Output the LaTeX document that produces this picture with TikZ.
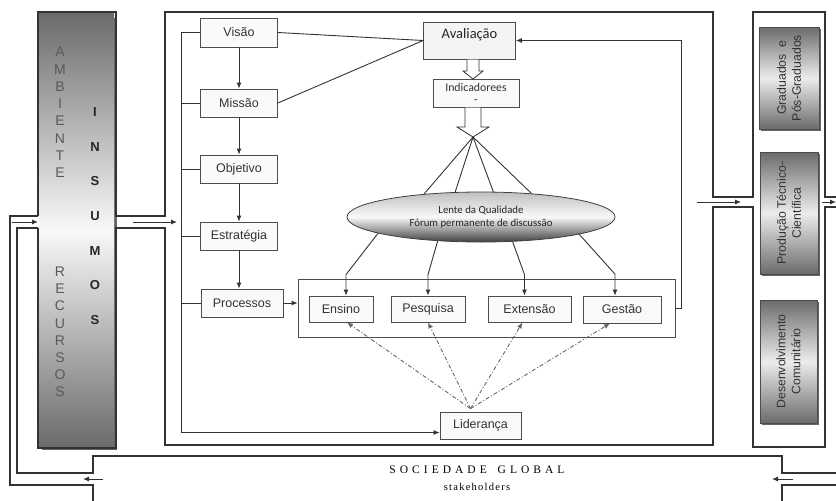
\documentclass[tikz,border=0pt]{standalone}
\usepackage{fontspec}
\setmainfont{Liberation Sans}
\newfontfamily\calfont{Carlito}
\newfontfamily\serfont[LetterSpace=35]{Liberation Serif}
\newfontfamily\serstk[LetterSpace=12]{Liberation Serif}
\usetikzlibrary{arrows.meta,shapes.geometric,calc}
\begin{document}
\begin{tikzpicture}[x=1pt,y=-1pt,
  pipe/.style={draw=black!80, line width=1.4pt, line join=miter},
  box/.style={draw=black!70, fill=gray!4, line width=0.8pt, minimum height=28pt, inner sep=0pt,
    font=\fontsize{12.5}{14}\selectfont, text=black!80},
  conn/.style={draw=black!80, line width=0.9pt},
  arr/.style={conn, -{Latex[length=6pt,width=5pt]}},
  dasharr/.style={draw=black!60, line width=0.9pt, dash pattern=on 4pt off 2pt on 1pt off 2pt,
    -{Latex[length=6pt,width=5pt]}},
  hollow/.style={draw=black!80, fill=white, line width=0.8pt, line join=miter},
  rbox/.style={draw=black!70, line width=0.6pt, top color=black!58, bottom color=black!58,
    middle color=gray!15, inner sep=0pt},
  rtext/.style={rotate=90, align=center, font=\fontsize{12.3}{15}\selectfont, text=black!80},
  stack/.style={align=center, inner sep=0pt, text=black!65},
]
\useasboundingbox (0,0) rectangle (836,501);

% ---- left column (Ambiente / Insumos / Recursos)
\fill[black!60] (42,18) rectangle (117,450);
\shade[top color=black!58, bottom color=black!58, middle color=gray!5] (39,13) rectangle (114,447);
\node[stack, font=\fontsize{14}{17.3}\selectfont] (amb) at (60,112.5) {A\\M\\B\\I\\E\\N\\T\\E};
\node[stack, font=\fontsize{14}{17.2}\selectfont] (rec) at (60,332) {R\\E\\C\\U\\R\\S\\O\\S};
\node[stack, font=\bfseries\fontsize{13}{34.7}\selectfont, text=black!85] (ins) at (95,216) {I\\N\\S\\U\\M\\O\\S};

% ---- right column boxes
\fill[black!60] (761,29) rectangle (821,131);
\node[rbox, minimum width=60pt, minimum height=102pt] (grad) at (789,78) {};
\node[rtext] (gradt) at (grad.center) {Graduados\enspace e\\Pós-Graduados};
\fill[black!60] (762,154) rectangle (820,276);
\node[rbox, minimum width=58pt, minimum height=122pt] (prod) at (789,213) {};
\node[rtext] (prodt) at (prod.center) {Produção Técnico-\\Científica};
\fill[black!60] (762,302) rectangle (819,425);
\node[rbox, minimum width=57pt, minimum height=123pt] (desen) at (788.5,361.5) {};
\node[rtext] (desent) at (desen.center) {Desenvolvimento\\Comunitário};

% ---- pipe outlines
\draw[pipe] (38,216) -- (38,12) -- (116,12) -- (116,216) -- (165,216) -- (165,12) -- (713,12)
  -- (713,197) -- (753,197) -- (753,12) -- (825,12) -- (825,197) -- (840,197);
\draw[pipe] (38,228) -- (38,448) -- (116,448) -- (116,228) -- (165,228) -- (165,445) -- (713,445)
  -- (713,207) -- (753,207) -- (753,447) -- (825,447) -- (825,207) -- (840,207);
\draw[pipe] (38,216) -- (10,216) -- (10,485) -- (93,485) -- (93,505);
\draw[pipe] (38,228) -- (17,228) -- (17,473) -- (93,473) -- (93,456) -- (782,456) -- (782,473) -- (840,473);
\draw[pipe] (840,485) -- (782,485) -- (782,505);

% channel arrows
\coordinate (c1a) at (12,222);  \coordinate (c1b) at (38,222);
\coordinate (c2a) at (133,222); \coordinate (c2b) at (177,222);
\coordinate (c3a) at (697,202); \coordinate (c3b) at (741,202);
\coordinate (c4a) at (822,202); \coordinate (c4b) at (836,202);
\coordinate (c5a) at (103,479); \coordinate (c5b) at (83,479);
\coordinate (c6a) at (793,479); \coordinate (c6b) at (772,479);
\foreach \i in {1,...,6} \draw[arr] (c\i a) -- (c\i b);

% bar text
\node (soc) at (477,470) {\fontsize{11.5}{12}\selectfont\serfont SOCIEDADE\hspace{4pt} GLOBAL};
\node (stk) at (477,487) {\fontsize{10.5}{12}\selectfont\serstk stakeholders};

% ---- central content
\node[draw=black!70, line width=0.8pt, minimum width=377pt, minimum height=58pt, inner sep=0pt] (grupo) at (486.5,308) {};

\node[box, minimum width=77pt, minimum height=29pt] (visao) at (239,32.5) {Visão};
\node[box, minimum width=77pt] (missao) at (239,103) {Missão};
\node[box, minimum width=77pt] (objetivo) at (239,169) {Objetivo};
\node[box, minimum width=77pt] (estrategia) at (239,236) {Estratégia};
\node[box, minimum width=82pt] (processos) at (242,303) {Processos};

\node[box, minimum width=64pt, minimum height=26pt] (ensino) at (341,309) {Ensino};
\node[box, minimum width=74pt, minimum height=26pt] (pesquisa) at (428,309) {Pesquisa};
\node[box, minimum width=83pt, minimum height=26pt] (extensao) at (529.5,309) {Extensão};
\node[box, minimum width=78pt, minimum height=27pt] (gestao) at (622,309.5) {Gestão};
\node[box, minimum width=81pt, minimum height=27pt] (lideranca) at (480.5,425.5) {Liderança};

\node[box, minimum width=92pt, minimum height=37pt, fill=gray!9] (avaliacao) at (469.5,40.5) {};
\node[font=\calfont\fontsize{14.5}{16}\selectfont, text=black!85] (avaltext) at ([yshift=6pt]avaliacao.center) {Avaliação};
\node[box, minimum width=86pt, align=center, font=\calfont\fontsize{11.8}{12}\selectfont] (indicadores) at (476,93) {Indicadorees\\-};

\node[ellipse, draw=black!75, line width=0.8pt, minimum width=268pt, minimum height=50pt, inner sep=0pt,
  top color=gray!50, bottom color=black!75, middle color=gray!5, align=center, text=black!85,
  font=\calfont\fontsize{10.8}{13}\selectfont] (lens) at (481,217) {Lente da Qualidade\\Fórum permanente de discussão};

% flow down the left
\draw[arr] (visao.south) -- (missao.north);
\draw[arr] (missao.south) -- (objetivo.north);
\draw[arr] (objetivo.south) -- (estrategia.north);
\draw[arr] (estrategia.south) -- (estrategia.south |- processos.north);

% trunk
\coordinate (trunktop) at (181,32.5);
\coordinate (lidin) at ([yshift=-7pt]lideranca.west);
\draw[arr] (visao.west) -- (trunktop) |- (lidin);
\foreach \n in {missao,objetivo,estrategia,processos} \draw[conn] (\n.west) -- (\n.west -| trunktop);

% processes to group, group back to evaluation
\draw[arr] (processos.east) -- (processos.east -| grupo.west);
\draw[arr] (grupo.east) -- ++(6,0) |- (avaliacao.east);

% vision/mission to evaluation
\draw[conn] (visao.east) -- (avaliacao.west);
\draw[conn] (missao.east) -- (avaliacao.west);

% hollow arrows
\draw[hollow] (467,59.5) -- (467,71) -- (463,71) -- (473,79) -- (483,71) -- (479,71) -- (479,59.5);
\draw[hollow] (465,107.5) -- (465,127) -- (457,127) -- (473,137) -- (489,127) -- (481,127) -- (481,107.5);
\coordinate (fan) at (473,137);
\foreach \a in {158,136,64,25} \draw[conn] (fan) -- (lens.\a);

% lens to activities
\draw[arr] (lens.-171) -- ([xshift=5pt,yshift=21pt]ensino.north) -- ([xshift=5pt]ensino.north);
\draw[arr] (lens.-151) -- ([yshift=21pt]pesquisa.north) -- (pesquisa.north);
\draw[arr] (lens.-38) -- ([xshift=-5pt,yshift=21pt]extensao.north) -- ([xshift=-5pt]extensao.north);
\draw[arr] (lens.-10) -- ([xshift=-7pt,yshift=21.5pt]gestao.north) -- ([xshift=-7pt]gestao.north);

% leadership
\coordinate (lidtop) at ([xshift=-10pt,yshift=3pt]lideranca.north);
\draw[dasharr] (lidtop) -- ([xshift=6pt]ensino.south);
\draw[dasharr] (lidtop) -- (pesquisa.south);
\draw[dasharr] (lidtop) -- ([xshift=-7pt]extensao.south);
\draw[dasharr] (lidtop) -- ([xshift=-12pt]gestao.south);
\end{tikzpicture}
\end{document}
